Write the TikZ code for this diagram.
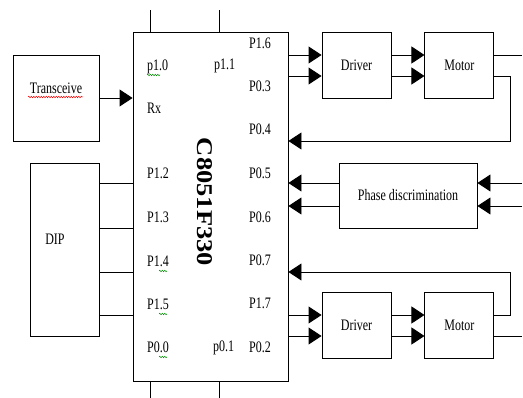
\documentclass[tikz,border=0pt]{standalone}
\usepackage{fontspec}
\usepackage{graphicx}
\setmainfont[FakeStretch=0.75]{Liberation Serif}
\newfontfamily\chipfont{Liberation Serif}
\usetikzlibrary{arrows.meta,positioning,decorations.pathmorphing}

\begin{document}
\begin{tikzpicture}[
  x=1pt, y=-1pt,
  >={Triangle[length=13pt,width=17pt]},
  font=\fontsize{16}{18}\selectfont,
  blk/.style={draw, line width=0.9pt, inner sep=0pt},
  unit/.style={blk, minimum width=69pt, minimum height=66pt},
  pin/.style={anchor=west, inner sep=0pt},
  wire/.style={line width=0.9pt},
  arr/.style={wire, ->},
  squig/.style={decorate, line width=0.5pt,
    decoration={snake, amplitude=0.7pt, segment length=2.5pt}}
]
  \useasboundingbox (0,0) rectangle (523,398);

  % The controller
  \node[blk, minimum width=155pt, minimum height=349pt] (chip) at (210.5,206.5) {};
  \node[rotate=-90] (chipname) at (204.5,202)
    {\chipfont\bfseries\fontsize{26.5}{26.5}\selectfont\scalebox{1}[0.85]{C8051F330}};

  % Pins, left column
  \node[pin] (p10) at (147,67)  {p1.0};
  \node[pin] (p11) at (214,66)  {p1.1};
  \node[pin] (rx)  at (147,108) {Rx};
  \node[pin] (p12) at (147,173) {P1.2};
  \node[pin] (p13) at (147,217) {P1.3};
  \node[pin] (p14) at (147,261) {P1.4};
  \node[pin] (p15) at (147,304) {P1.5};
  \node[pin] (p00) at (147,347) {P0.0};
  \node[pin] (p01) at (213,348) {p0.1};

  % Pins, right column
  \node[pin] (p16) at (249,43)  {P1.6};
  \node[pin] (p03) at (249,86)  {P0.3};
  \node[pin] (p04) at (249,129) {P0.4};
  \node[pin] (p05) at (249,173) {P0.5};
  \node[pin] (p06) at (249,217) {P0.6};
  \node[pin] (p07) at (249,260) {P0.7};
  \node[pin] (p17) at (249,303) {P1.7};
  \node[pin] (p02) at (249,347) {P0.2};

  % Stubs above and below the chip
  \coordinate (topA) at (150,10);
  \coordinate (topB) at (219,10);
  \coordinate (botA) at (150,398);
  \coordinate (botB) at (219,398);
  \draw[wire] (chip.north -| topA) -- (topA);
  \draw[wire] (chip.north -| topB) -- (topB);
  \draw[wire] (chip.south -| botA) -- (botA);
  \draw[wire] (chip.south -| botB) -- (botB);

  % Transceiver and switches
  \node[blk, minimum size=86pt] (trx) at (56,98) {};
  \node (trxtext) at (56,88) {Transceive};
  \node[blk, minimum width=69pt, minimum height=173pt] (dip) at (64.5,249.5) {};
  \node (diptext) at (55,239) {DIP};

  \draw[arr] (trx) -- (trx -| chip.west);
  \foreach \y in {183,228,272,315}
    \draw[wire] (dip.east |- 0,\y) -- (chip.west |- 0,\y);

  % Motor chains and phase detector
  \node[unit] (drv1) at (356.5,65) {Driver};
  \node[unit, right=33pt of drv1] (mot1) {Motor};
  \node[blk, minimum width=138pt, minimum height=65pt] (phase) at (408,195.5) {Phase discrimination};
  \node[unit] (drv2) at (356.5,325.5) {Driver};
  \node[unit, right=33pt of drv2] (mot2) {Motor};

  \coordinate (out1) at (522,55);
  \coordinate (out2) at (522,336);
  \coordinate (in1)  at (522,183);
  \coordinate (in2)  at (522,206);
  \coordinate (fb1)  at (510,141);
  \coordinate (fb2)  at (510,272);

  \foreach \y in {55,76} {
    \draw[arr] (chip.east |- 0,\y) -- (drv1.west |- 0,\y);
    \draw[arr] (drv1.east |- 0,\y) -- (mot1.west |- 0,\y);
  }
  \draw[wire] (mot1.east |- out1) -- (out1);
  \draw[arr] (mot1.east |- 0,76) -| (fb1) -- (chip.east |- fb1);

  \foreach \c in {in1,in2} {
    \draw[arr] (\c) -- (phase.east |- \c);
    \draw[arr] (phase.west |- \c) -- (chip.east |- \c);
  }

  \draw[arr] (mot2.east |- 0,315) -| (fb2) -- (chip.east |- fb2);
  \foreach \y in {315,336} {
    \draw[arr] (chip.east |- 0,\y) -- (drv2.west |- 0,\y);
    \draw[arr] (drv2.east |- 0,\y) -- (mot2.west |- 0,\y);
  }
  \draw[wire] (mot2.east |- out2) -- (out2);

  % Spelling marks
  \draw[squig, red] (28,97) -- (83,97);
  \draw[squig, green!55!black] (147,75) -- (160,75);
  \draw[squig, green!55!black] (159,271) -- (167,271);
  \draw[squig, green!55!black] (159,314) -- (167,314);
  \draw[squig, green!55!black] (159,357) -- (167,357);

\end{tikzpicture}
\end{document}
